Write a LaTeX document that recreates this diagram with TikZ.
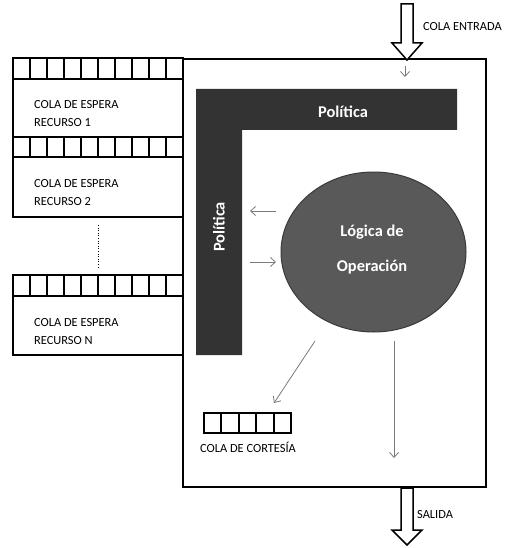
\documentclass[tikz,border=0pt]{standalone}
\usepackage{fontspec}
\setmainfont{Carlito}
\usetikzlibrary{arrows.meta,shapes.geometric}
\definecolor{bardark}{HTML}{333333}
\definecolor{ellfill}{HTML}{595959}
\definecolor{ellline}{HTML}{3A3A3A}
\definecolor{arrgray}{HTML}{7A7A7A}
\tikzset{
  qline/.style={draw=black,line width=1.9pt},
  lbl/.style={font=\fontsize{12.4}{14}\selectfont,inner sep=0pt,anchor=base west},
  bartxt/.style={font=\fontsize{16.4}{18}\selectfont\bfseries,text=white,inner sep=0pt},
  thinarr/.style={draw=arrgray,line width=0.8pt,-{Straight Barb[length=5pt,width=9pt]}},
  hollow/.style={draw=black,line width=1.5pt,fill=white,line join=miter}
}
\begin{document}
\begin{tikzpicture}[x=1pt,y=-1pt]
\useasboundingbox (0,0) rectangle (523,548);
% main box
\draw[qline] (183,59) rectangle (486,487);
% queues
\foreach \t/\m/\b/\n [count=\k] in {58/79/137/1,137/157/217/2,275/296/355/N}{
  \draw[qline] (13,\t) rectangle (183,\b);
  \draw[qline] (13,\m) -- (183,\m);
  \foreach \i in {1,...,9} \draw[qline] ({13+17*\i},\t) -- ({13+17*\i},\m);
  \node[lbl] (qa\k) at (34,{\m+30}) {COLA DE ESPERA};
  \node[lbl] (qb\k) at (34,{\m+48}) {RECURSO \n};
}
\draw[black,line width=0.6pt,dotted] (98,225) -- (98,268);
% Politica L-shape
\fill[bardark] (196,89) -- (457,89) -- (457,130) -- (242,130) -- (242,355) -- (196,355) -- cycle;
\node[bartxt] (poltop) at (343,112) {Política};
\node[bartxt,rotate=90] (polleft) at (219,227) {Política};
\coordinate (pbar1) at (250,211);
\coordinate (pbar2) at (250,262);
% ellipse
\node[ellipse,draw=ellline,line width=1pt,fill=ellfill,minimum width=185pt,minimum height=160pt,inner sep=0pt] (logic) at (373.5,252) {};
\node[bartxt] at (372,232) {Lógica de};
\node[bartxt] at (372,267) {Operación};
% thin arrows
\coordinate (la1) at (276,211);
\coordinate (ra2) at (276,262);
\draw[thinarr] (la1) -- (pbar1);
\draw[thinarr] (pbar2) -- (ra2);
\coordinate (d1) at (315,341);
\coordinate (d2) at (274,403);
\draw[thinarr] (d1) -- (d2);
\coordinate (v1) at (394,341);
\coordinate (v2) at (394,458);
\draw[thinarr] (v1) -- (v2);
\coordinate (e1) at (405,66);
\coordinate (e2) at (405,77);
\draw[thinarr] (e1) -- (e2);
% cortesia queue
\draw[qline] (204,413) rectangle (291,433);
\foreach \i in {1,...,4} \draw[qline] ({204+17.4*\i},413) -- ({204+17.4*\i},433);
\node[font=\fontsize{12.4}{14}\selectfont,inner sep=0pt,anchor=base] (cort) at (248,452) {COLA DE CORTESÍA};
% hollow arrows
\draw[hollow] (401,4) -- (413,4) -- (413,43) -- (422,43) -- (407,60) -- (392,43) -- (401,43) -- cycle;
\node[lbl] (entr) at (423,31) {COLA ENTRADA};
\draw[hollow] (401,488) -- (413,488) -- (413,530) -- (422,530) -- (407,545) -- (392,530) -- (401,530) -- cycle;
\node[lbl] (sal) at (417,518) {SALIDA};
\end{tikzpicture}
\end{document}
